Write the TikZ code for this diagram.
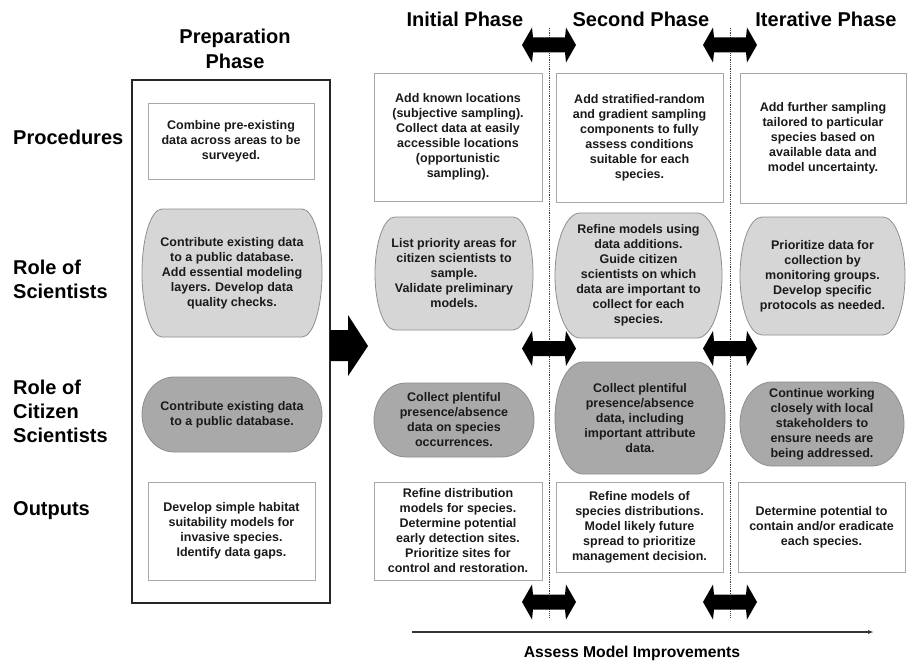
\documentclass[tikz,border=0pt]{standalone}
\usepackage{fontspec}
\setmainfont{Liberation Sans}
\usetikzlibrary{arrows.meta}
\definecolor{lightfill}{HTML}{D6D6D6}
\definecolor{darkfill}{HTML}{A9A9A9}
\definecolor{edgegray}{HTML}{8E8E8E}
\definecolor{boxgray}{HTML}{A8A8A8}
\definecolor{txtgray}{HTML}{1A1A1A}
\tikzset{
 txt/.style={align=center, font=\bfseries\fontsize{12.5}{15}\selectfont, text=txtgray, inner sep=0pt},
 head/.style={font=\bfseries\fontsize{20}{25}\selectfont, align=center, inner sep=0pt},
 rowlab/.style={font=\bfseries\fontsize{20}{24}\selectfont, align=left, anchor=west, inner sep=0pt},
 sqbox/.style={draw=boxgray, line width=0.9pt, fill=white},
 lightcap/.style={fill=lightfill, draw=edgegray, line width=0.8pt},
 darkcap/.style={fill=darkfill, draw=edgegray, line width=0.8pt},
 blockarrow/.style={fill=black, draw=none},
 divider/.style={draw=black!75, line width=0.8pt, dash pattern=on 0.8pt off 1pt},
 axisline/.style={draw=black!80, line width=1.1pt, -{Latex[length=6pt,width=4pt]}},
}
\newcommand\sqnode[6]{%
 \draw[sqbox] (#2,#3) rectangle (#4,#5);
 \node[txt] (#1) at ({(#2+#4)/2},{(#3+#5)/2}) {#6};}
\newcommand\capsule[8]{%
 \pgfmathsetmacro\capA{#2+#6}\pgfmathsetmacro\capB{#4-#6}%
 \pgfmathsetmacro\capM{(#3+#5)/2}%
 \pgfmathsetmacro\capK{0.5523*#6}\pgfmathsetmacro\capR{0.5523*(#5-#3)/2}%
 \filldraw[#7] (\capA,#3) -- (\capB,#3)
   .. controls (\capB+\capK,#3) and (#4,\capM-\capR) .. (#4,\capM)
   .. controls (#4,\capM+\capR) and (\capB+\capK,#5) .. (\capB,#5)
   -- (\capA,#5)
   .. controls (\capA-\capK,#5) and (#2,\capM+\capR) .. (#2,\capM)
   .. controls (#2,\capM-\capR) and (\capA-\capK,#3) .. (\capA,#3) -- cycle;
 \node[txt] (#1) at ({(#2+#4)/2},\capM) {#8};}
\newcommand\dblarrow[2]{%
 \fill[blockarrow] (#1-27,#2) -- (#1-17,#2-17.5) -- (#1-16,#2-7.5) -- (#1+16,#2-7.5)
  -- (#1+17,#2-17.5) -- (#1+27,#2) -- (#1+17,#2+17.5) -- (#1+16,#2+7.5)
  -- (#1-16,#2+7.5) -- (#1-17,#2+17.5) -- cycle;}
\begin{document}
\begin{tikzpicture}[x=1pt,y=-1pt]
\useasboundingbox (0,0) rectangle (907,661);
\fill[white] (0,0) rectangle (907,661);

% headers
\node[head] (hprep) at (235,49) {Preparation\\Phase};
\node[head] (hinit) at (465,19) {Initial Phase};
\node[head] (hsec) at (641,19) {Second Phase};
\node[head] (hiter) at (826,19) {Iterative Phase};

% row labels
\node[rowlab] (lproc) at (13,137) {Procedures};
\node[rowlab] (lsci) at (13,279) {Role of\\Scientists};
\node[rowlab] (lcit) at (13,411) {Role of\\Citizen\\Scientists};
\node[rowlab] (lout) at (13,511) {Outputs};

% dividers
\draw[divider] (549,28) -- (549,617);
\draw[divider] (730,28) -- (730,617);

% preparation frame
\draw[draw=black!85, line width=1.4pt] (132,80) rectangle (330,603);
\sqnode{p1}{148}{103}{314}{179}{Combine pre-existing\\data across areas to be\\surveyed.}
\capsule{p2}{142}{209}{322}{337}{20}{lightcap}{Contribute existing data\\to a public database.\\Add essential modeling\\layers. Develop data\\quality checks.}
\capsule{p3}{142}{377}{322}{452}{32}{darkcap}{Contribute existing data\\to a public database.}
\sqnode{p4}{148}{482}{315}{580}{Develop simple habitat\\suitability models for\\invasive species.\\Identify data gaps.}

% big arrow
\fill[blockarrow] (330,330) -- (348,330) -- (348,315) -- (368,346) -- (348,376) -- (348,361) -- (330,361) -- cycle;

% initial phase
\sqnode{i1}{374}{73}{542}{201}{Add known locations\\(subjective sampling).\\Collect data at easily\\accessible locations\\(opportunistic\\sampling).}
\capsule{i2}{375}{217}{533}{330}{20}{lightcap}{List priority areas for\\citizen scientists to\\sample.\\Validate preliminary\\models.}
\capsule{i3}{374}{383}{534}{457}{32}{darkcap}{Collect plentiful\\presence/absence\\data on species\\occurrences.}
\sqnode{i4}{374}{482}{542}{580}{Refine distribution\\models for species.\\Determine potential\\early detection sites.\\Prioritize sites for\\control and restoration.}

% second phase
\sqnode{s1}{556}{73}{723}{202}{Add stratified-random\\and gradient sampling\\components to fully\\assess conditions\\suitable for each\\species.}
\capsule{s2}{555}{213}{722}{338}{25}{lightcap}{Refine models using\\data additions.\\Guide citizen\\scientists on which\\data are important to\\collect for each\\species.}
\capsule{s3}{555}{362}{725}{474}{28}{darkcap}{Collect plentiful\\presence/absence\\data, including\\important attribute\\data.}
\sqnode{s4}{556}{482}{723}{572}{Refine models of\\species distributions.\\Model likely future\\spread to prioritize\\management decision.}

% iterative phase
\sqnode{t1}{740}{73}{906}{203}{Add further sampling\\tailored to particular\\species based on\\available data and\\model uncertainty.}
\capsule{t2}{740}{217}{905}{335}{22}{lightcap}{Prioritize data for\\collection by\\monitoring groups.\\Develop specific\\protocols as needed.}
\capsule{t3}{740}{382}{904}{466}{32}{darkcap}{Continue working\\closely with local\\stakeholders to\\ensure needs are\\being addressed.}
\sqnode{t4}{738}{482}{905}{572}{Determine potential to\\contain and/or eradicate\\each species.}

% double arrows
\dblarrow{549}{45}
\dblarrow{730}{45}
\dblarrow{549}{348.5}
\dblarrow{730}{348.5}
\dblarrow{549}{602}
\dblarrow{730}{602}

% axis
\coordinate (axL) at (412,632);
\coordinate (axR) at (874,632);
\draw[axisline] (axL) -- (axR);
\node[font=\bfseries\fontsize{15.7}{19}\selectfont, inner sep=0pt] (axlab) at (632,653) {Assess Model Improvements};
\end{tikzpicture}
\end{document}
